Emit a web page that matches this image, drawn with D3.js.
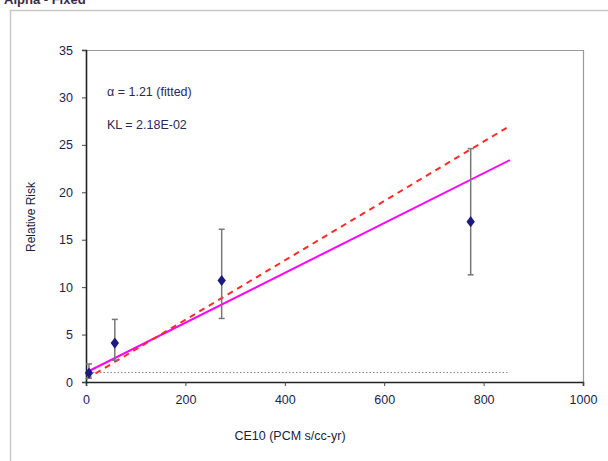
<!DOCTYPE html>
<html><head><meta charset="utf-8">
<script src="https://cdn.jsdelivr.net/npm/d3@7"></script>
<style>body{margin:0;background:#fff}svg{display:block}text{font-family:Arial,"Liberation Sans",sans-serif}</style>
</head><body><svg id="c" width="608" height="461"></svg>
<script>
const ceValues = [6, 58, 273, 774];
const rrValues = [0.95, 4.1, 10.7, 16.9];
const rrLower = [0.4, 2.3, 6.7, 11.3];
const rrUpper = [1.9, 6.6, 16.1, 24.6];
const fittedLine = [[0, 1.0], [853, 23.4]];
const dashedLine = [[0, 0.3], [853, 27.0]];
const baselineLine = [[0, 1], [850, 1]];
const xTicks = [0, 200, 400, 600, 800, 1000];
const yTicks = [0, 5, 10, 15, 20, 25, 30, 35];
const annotations = ["α = 1.21 (fitted)", "KL = 2.18E-02"];

const svg = d3.select("#c");
const L = 86, R = 583, T = 50, B = 382;
const x = d3.scaleLinear().domain([0, 1000]).range([L, R]);
const y = d3.scaleLinear().domain([0, 35]).range([B, T]);

// outer chart border
svg.append("path").attr("d", `M10.5,461 V10.5 H608`).attr("fill", "none").attr("stroke", "#c8c8c8").attr("stroke-width", 1.5);
// title (cut off at top, as in the reference)
svg.append("text").attr("x", 4).attr("y", 4).attr("font-size", 13).attr("font-weight", "bold").attr("fill", "#3a2a4a").text("Alpha - Fixed");

// plot frame top/right
svg.append("path").attr("d", `M${L},${T+0.5} H${R+0.5} V${B}`).attr("fill", "none").attr("stroke", "#999").attr("stroke-width", 1.2);

// axes
const xAxis = d3.axisBottom(x).tickValues(xTicks).tickFormat(d3.format("d")).tickSize(4).tickPadding(9);
const yAxis = d3.axisLeft(y).tickValues(yTicks).tickFormat(d3.format("d")).tickSize(4).tickPadding(9);
const gx = svg.append("g").attr("transform", `translate(0,${B})`).call(xAxis);
const gy = svg.append("g").attr("transform", `translate(${L},0)`).call(yAxis);
[gx, gy].forEach(g => {
  g.select(".domain").attr("stroke", "#222").attr("stroke-width", 1.6);
  g.selectAll(".tick line").attr("stroke", "#444");
  g.selectAll(".tick text").attr("font-size", 12.5).attr("fill", "#1c1c50").attr("font-family", "Arial, 'Liberation Sans', sans-serif");
});

// axis titles
svg.append("text").attr("x", 290).attr("y", 440).attr("text-anchor", "middle").attr("font-size", 12.5).attr("fill", "#1c1c40").text("CE10 (PCM s/cc-yr)");
svg.append("text").attr("transform", "translate(35,217) rotate(-90)").attr("text-anchor", "middle").attr("font-size", 12).attr("fill", "#1c1c40").text("Relative Risk");

// annotations
svg.append("text").attr("x", 107).attr("y", 96).attr("font-size", 12.5).attr("fill", "#2a2a50").text(annotations[0]);
svg.append("text").attr("x", 107).attr("y", 129).attr("font-size", 12.5).attr("fill", "#2a2a50").text(annotations[1]);

const line = d3.line().x(d => x(d[0])).y(d => y(d[1]));
svg.append("path").attr("d", line(baselineLine)).attr("fill", "none").attr("stroke", "#888").attr("stroke-width", 1).attr("stroke-dasharray", "1.5,2");
svg.append("path").attr("d", line(fittedLine)).attr("fill", "none").attr("stroke", "#ff00ff").attr("stroke-width", 2);
svg.append("path").attr("d", line(dashedLine)).attr("fill", "none").attr("stroke", "#ff2a2a").attr("stroke-width", 2).attr("stroke-dasharray", "6,5");

// error bars
const pts = ceValues.map((c, i) => ({c, v: rrValues[i], lo: rrLower[i], hi: rrUpper[i]}));
const eb = svg.append("g").attr("stroke", "#777").attr("stroke-width", 1.5);
pts.forEach(p => {
  eb.append("line").attr("x1", x(p.c)).attr("x2", x(p.c)).attr("y1", y(p.lo)).attr("y2", y(p.hi));
  eb.append("line").attr("x1", x(p.c) - 3).attr("x2", x(p.c) + 3).attr("y1", y(p.lo)).attr("y2", y(p.lo));
  eb.append("line").attr("x1", x(p.c) - 3).attr("x2", x(p.c) + 3).attr("y1", y(p.hi)).attr("y2", y(p.hi));
});
// markers
svg.append("g").selectAll("path").data(pts).join("path")
  .attr("transform", d => `translate(${x(d.c)},${y(d.v)}) scale(1.1,0.85)`)
  .attr("d", d3.symbol(d3.symbolDiamond, 50)())
  .attr("fill", "#1a1a80");
</script></body></html>
